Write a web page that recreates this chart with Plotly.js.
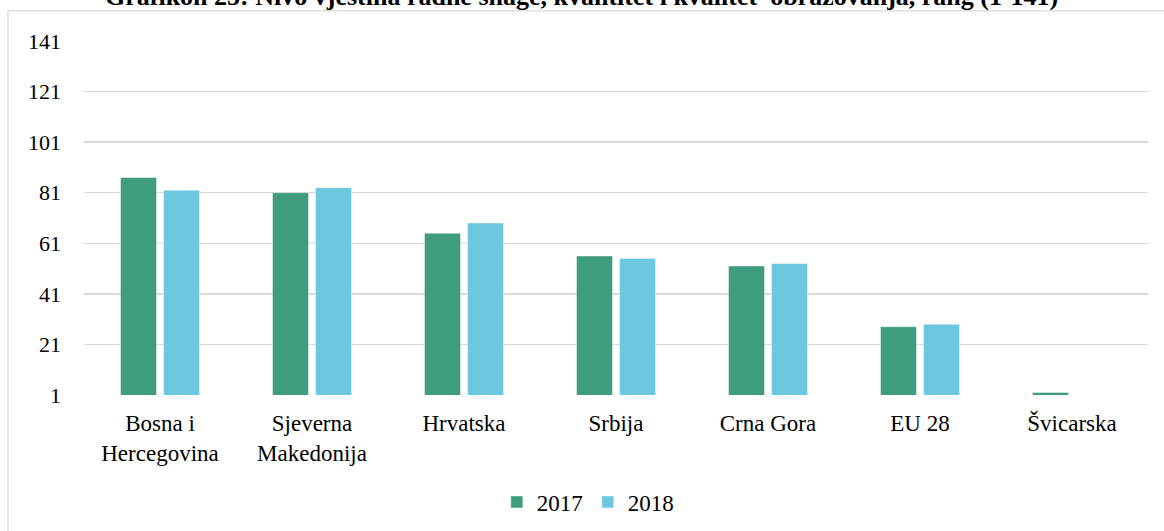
<!DOCTYPE html>
<html>
<head>
<meta charset="utf-8">
<script src="https://cdn.plot.ly/plotly-3.0.1.min.js"></script>
<style>
  html, body { margin: 0; padding: 0; background: #fff; }
  #chart { width: 1164px; height: 531px; }
</style>
</head>
<body>
<div id="chart"></div>
<script>
const titleText = "Grafikon 25: Nivo vještina radne snage, kvantitet i kvalitet  obrazovanja, rang (1-141)";
const categories = ["Bosna i<br>Hercegovina", "Sjeverna<br>Makedonija", "Hrvatska", "Srbija", "Crna Gora", "EU 28", "Švicarska"];
const seriesNames = ["2017", "2018"];
const values2017 = [87, 81, 65, 56, 52, 28, 2];
const values2018 = [82, 83, 69, 55, 53, 29, 1];
const yTicks = [1, 21, 41, 61, 81, 101, 121, 141];

const fontFamily = "'Liberation Serif', 'Times New Roman', serif";
const colors = ["#3F9C7E", "#6CC8DF"];

const traces = [values2017, values2018].map((vals, i) => ({
  type: "bar",
  name: seriesNames[i],
  x: categories,
  y: vals,
  marker: { color: colors[i], line: { color: "rgba(255,255,255,0.7)", width: 0.6 } },
  hoverinfo: "x+y+name"
}));

const layout = {
  width: 1164,
  height: 531,
  margin: { l: 84, r: 16, t: 41, b: 136, pad: 0 },
  paper_bgcolor: "#ffffff",
  plot_bgcolor: "#ffffff",
  font: { family: fontFamily, size: 22, color: "#000000" },
  barmode: "group",
  bargap: 0.434,
  bargroupgap: 0.163,
  showlegend: true,
  legend: {
    orientation: "h",
    xref: "container", yref: "container",
    x: 0.505, xanchor: "center",
    y: 1 - 502 / 531, yanchor: "middle",
    font: { family: fontFamily, size: 23, color: "#000" },
    itemwidth: 30,
    traceorder: "normal"
  },
  xaxis: {
    type: "category",
    showgrid: false,
    showline: false,
    ticks: "",
    ticklabelstandoff: 12,
    tickfont: { family: fontFamily, size: 23, color: "#000" },
    automargin: false
  },
  yaxis: {
    range: [1, 141],
    tickmode: "array",
    tickvals: yTicks,
    ticktext: yTicks.map(String),
    showgrid: true,
    gridcolor: "#D9D9D9",
    gridwidth: 1.3,
    zeroline: false,
    showline: false,
    ticks: "",
    ticklabelstandoff: 22,
    tickfont: { family: fontFamily, size: 22, color: "#000" },
    automargin: false
  },
  annotations: [{
    text: "<b>" + titleText + "</b>",
    xref: "paper", yref: "paper",
    x: 0.468, xanchor: "center",
    y: 1.127, yanchor: "middle",
    showarrow: false,
    font: { family: fontFamily, size: 26, color: "#000" }
  }],
  shapes: [{
    type: "rect",
    xref: "paper", yref: "paper",
    x0: (8 - 84) / 1064, x1: (1175 - 84) / 1064,
    y0: (394.7 - 545) / 353.7, y1: (394.7 - 11) / 353.7,
    line: { color: "#D9D9D9", width: 1.3 },
    fillcolor: "rgba(0,0,0,0)",
    layer: "below"
  }]
};

Plotly.newPlot("chart", traces, layout, { displayModeBar: false, responsive: false, staticPlot: true });
</script>
</body>
</html>
